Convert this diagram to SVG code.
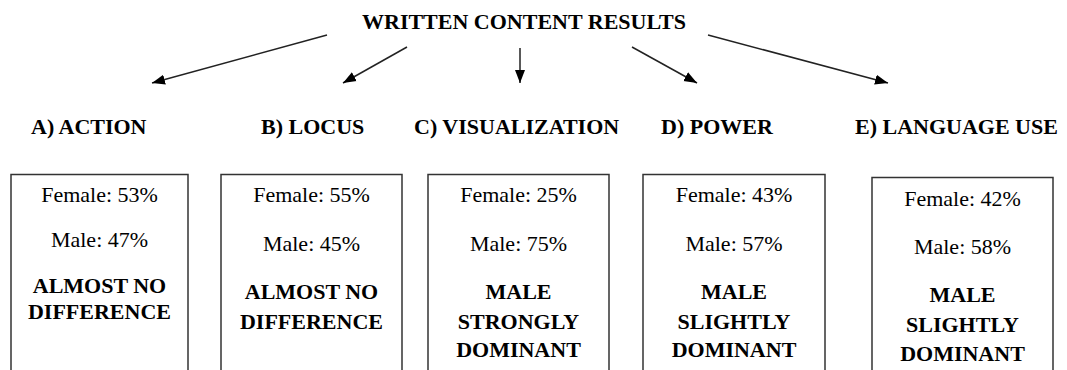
<svg xmlns="http://www.w3.org/2000/svg" width="1067" height="370" viewBox="0 0 1067 370" font-family="Liberation Serif, DejaVu Serif, serif">
  <style>
    text { fill: #000; }
    .title { font-size: 22px; font-weight: bold; }
    .lbl { font-size: 22px; font-weight: bold; }
    .reg { font-size: 22px; text-anchor: middle; }
    .bold { font-size: 22px; font-weight: bold; text-anchor: middle; }
    .box { fill: #fff; stroke: #333; stroke-width: 1.5; }
    .conn line { stroke: #222; stroke-width: 1.5; marker-end: url(#arrow); }
  </style>
  <defs>
    <marker id="arrow" markerUnits="userSpaceOnUse" markerWidth="14" markerHeight="12" viewBox="0 0 14 12" refX="13" refY="6" orient="auto">
      <path d="M0,1 L13,6 L0,11 Z" fill="#000"/>
    </marker>
  </defs>
  <rect width="1067" height="370" fill="#fff"/>

  <g id="title">
    <text class="title" x="362" y="29">WRITTEN CONTENT RESULTS</text>
  </g>

  <g id="connectors" class="conn">
    <line x1="327" y1="35" x2="152" y2="83"/>
    <line x1="407" y1="47" x2="343" y2="83"/>
    <line x1="520" y1="48" x2="520" y2="83"/>
    <line x1="632" y1="47" x2="697" y2="83"/>
    <line x1="708" y1="35" x2="888" y2="83"/>
  </g>

  <g id="node-a">
    <text class="lbl" x="31" y="134">A) ACTION</text>
    <path class="box" d="M11,372 V174.5 H188 V372"/>
    <text class="reg" x="99.5" y="202">Female: 53%</text>
    <text class="reg" x="99.5" y="247">Male: 47%</text>
    <text class="bold" x="99.5" y="293">ALMOST NO</text>
    <text class="bold" x="99.5" y="319">DIFFERENCE</text>
  </g>

  <g id="node-b">
    <text class="lbl" x="261" y="134">B) LOCUS</text>
    <path class="box" d="M221,372 V174.5 H402 V372"/>
    <text class="reg" x="311.5" y="202">Female: 55%</text>
    <text class="reg" x="311.5" y="251">Male: 45%</text>
    <text class="bold" x="311.5" y="299">ALMOST NO</text>
    <text class="bold" x="311.5" y="329">DIFFERENCE</text>
  </g>

  <g id="node-c">
    <text class="lbl" x="414" y="134">C) VISUALIZATION</text>
    <path class="box" d="M428,372 V174.5 H609 V372"/>
    <text class="reg" x="518.5" y="202">Female: 25%</text>
    <text class="reg" x="518.5" y="251">Male: 75%</text>
    <text class="bold" x="518.5" y="299">MALE</text>
    <text class="bold" x="518.5" y="329">STRONGLY</text>
    <text class="bold" x="518.5" y="357">DOMINANT</text>
  </g>

  <g id="node-d">
    <text class="lbl" x="661" y="134">D) POWER</text>
    <path class="box" d="M643,372 V174.5 H825 V372"/>
    <text class="reg" x="734" y="202">Female: 43%</text>
    <text class="reg" x="734" y="251">Male: 57%</text>
    <text class="bold" x="734" y="299">MALE</text>
    <text class="bold" x="734" y="329">SLIGHTLY</text>
    <text class="bold" x="734" y="357">DOMINANT</text>
  </g>

  <g id="node-e">
    <text class="lbl" x="855" y="134">E) LANGUAGE USE</text>
    <path class="box" d="M872,372 V177.5 H1053 V372"/>
    <text class="reg" x="962.5" y="206">Female: 42%</text>
    <text class="reg" x="962.5" y="254">Male: 58%</text>
    <text class="bold" x="962.5" y="302">MALE</text>
    <text class="bold" x="962.5" y="332">SLIGHTLY</text>
    <text class="bold" x="962.5" y="361">DOMINANT</text>
  </g>
</svg>
